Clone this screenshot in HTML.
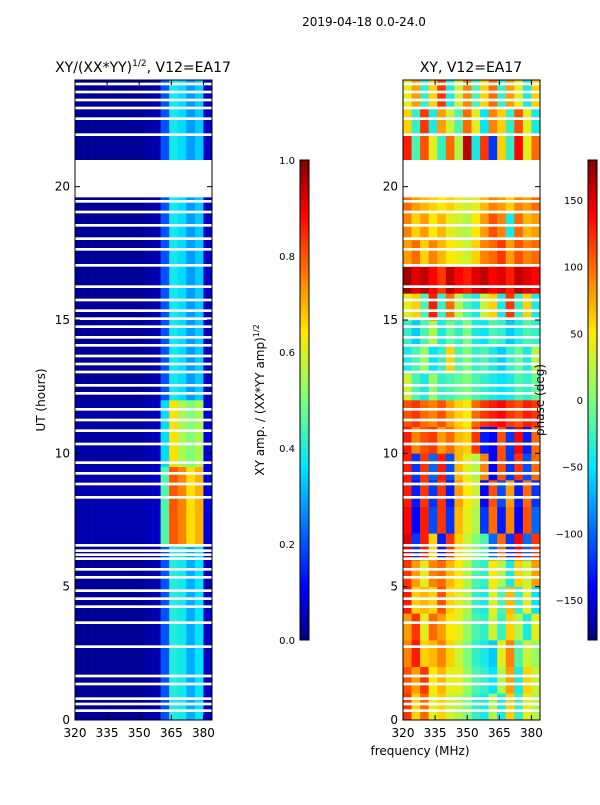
<!DOCTYPE html>
<html><head><meta charset="utf-8"><style>
body{margin:0;background:#fff;}
svg text{font-family:"DejaVu Sans","Liberation Sans",sans-serif;fill:#000;}
</style></head><body>
<svg id="fig" width="600" height="800" xmlns="http://www.w3.org/2000/svg">
<defs>
<linearGradient id="jet" x1="0" y1="1" x2="0" y2="0">
<stop offset="0" stop-color="#000080"/><stop offset="0.11" stop-color="#0000ff"/><stop offset="0.36" stop-color="#00e5ff"/><stop offset="0.5" stop-color="#7dff7a"/><stop offset="0.64" stop-color="#ffea00"/><stop offset="0.89" stop-color="#ff0000"/><stop offset="1" stop-color="#800000"/>
</linearGradient>
</defs>
<text x="364" y="26" font-size="12" text-anchor="middle">2019-04-18 0.0-24.0</text>
<text x="143" y="72" font-size="14" text-anchor="middle">XY/(XX*YY)<tspan font-size="9" dy="-6">1/2</tspan><tspan dy="6">, V12=EA17</tspan></text>
<text x="471" y="72" font-size="14" text-anchor="middle">XY, V12=EA17</text>
<g id="p1"></g>
<g id="p2"></g>
<g id="axes"></g>
<rect x="300" y="160" width="9" height="480" fill="url(#jet)" stroke="#000" stroke-width="1"/>
<rect x="588" y="160" width="9" height="480" fill="url(#jet)" stroke="#000" stroke-width="1"/>
<text transform="translate(45,400) rotate(-90)" font-size="12" text-anchor="middle">UT (hours)</text>
<text transform="translate(264,400) rotate(-90)" font-size="12" text-anchor="middle">XY amp. / (XX*YY amp)<tspan font-size="8" dy="-5">1/2</tspan></text>
<text transform="translate(544,400) rotate(-90)" font-size="12" text-anchor="middle">phase (deg)</text>
<text x="420" y="755" font-size="12" text-anchor="middle">frequency (MHz)</text>
</svg>
<script>
const freqEdges=[320,324,328,332,336,340,344,348,352,356,360,364,368,372,376,380,384];
const ampBlocks=[[0,6.5],[6.5,9.5],[9.5,12],[12,24]];
const ampBase=[0.02,0.02,0.02,0.02,0.02,0.02,0.02,0.02,0.03,0.04,0.2,0.4,0.38,0.3,0.36,0.06];
const ampRed=[0.04,0.04,0.04,0.04,0.04,0.04,0.04,0.04,0.05,0.06,0.45,0.8,0.75,0.65,0.7,0.08];
const ampMid=[0.03,0.03,0.03,0.03,0.03,0.03,0.03,0.03,0.04,0.05,0.35,0.65,0.55,0.5,0.55,0.08];
const ampUpper=[0.02,0.02,0.02,0.02,0.02,0.02,0.02,0.02,0.03,0.04,0.2,0.38,0.35,0.28,0.33,0.06];
const phaseRows=[
[120,60,100,40,60,30,20,0,-30,-40,20,-40,60,-30,40,20],
[110,80,120,50,70,40,40,10,-20,-30,-50,20,80,-40,60,30],
[90,130,60,70,90,60,30,0,-30,-40,-60,40,90,-20,30,10],
[80,120,40,100,80,50,40,10,-20,-30,30,-30,60,20,-40,40],
[130,60,70,60,110,60,40,20,-30,-40,40,-20,70,-30,40,-50],
[120,80,40,90,100,70,50,20,-20,-30,50,20,-40,60,30,80],
[150,-120,130,60,-130,120,60,30,0,-20,-100,100,-120,140,-100,120],
[140,-140,130,-110,120,-120,70,40,20,-120,100,-130,90,-140,110,-100],
[130,-130,120,-120,120,-130,80,50,30,-140,110,-110,80,-130,100,-120],
[130,-120,120,-100,130,-110,70,40,20,90,-140,110,-120,120,-110,100],
[130,90,110,120,80,100,70,60,120,-130,-140,110,-120,140,-130,100],
[110,120,100,90,110,80,60,50,100,120,130,140,120,110,130,120],
[30,-20,-40,10,-30,-20,-10,0,-20,-30,-40,-50,-40,-20,-30,-10],
[-40,-20,10,-50,-30,60,-20,0,-30,-20,-40,-60,-30,-10,-40,20],
[-30,-60,-20,20,-40,-10,-30,0,-40,-50,-20,-30,-60,-40,-20,-30],
[40,60,-20,130,-30,100,20,-20,-40,30,60,-40,120,-30,60,-40],
[170,150,160,140,120,160,140,130,150,160,140,150,130,160,150,140],
[80,100,60,90,70,50,40,30,60,90,100,120,80,110,90,100],
[90,60,80,50,70,40,30,20,50,80,110,90,-40,100,70,80],
[100,80,70,60,50,60,40,30,40,70,90,80,60,90,80,100],
[0,0,0,0,0,0,0,0,0,0,0,0,0,0,0,0],
[130,-20,110,40,-30,100,20,160,-40,120,-120,60,-30,140,40,100],
[60,-30,120,-40,80,30,-20,100,40,-50,90,60,-30,110,40,-40],
[40,80,-30,60,120,-40,30,90,-20,60,100,-30,80,40,-40,60]];
const gaps=[0.3,0.55,0.75,1.3,1.6,2.7,3.6,4.2,4.5,4.8,5.3,5.6,6.0,6.15,6.3,6.5,8.3,8.8,9.2,9.6,10.3,10.8,11.2,11.6,12.2,12.5,13.0,13.3,13.6,14.0,14.3,14.7,15.0,15.3,15.7,16.2,17.0,17.6,18.0,18.5,19.0,19.4,21.9,22.5,22.9,23.2,23.5,23.8];
const bigGap=[19.6,21.0];
const xTicks=[320,335,350,365,380];
const yTicks=[0,5,10,15,20];
const ampTicks=[0.0,0.2,0.4,0.6,0.8,1.0];
const phaseTicks=[-150,-100,-50,0,50,100,150];

const NS="http://www.w3.org/2000/svg";
const Y0=720,Y1=80;
function yScale(h){return Y0-(h/24)*(Y0-Y1);}
function xScale(x0,f){return x0+(f-320)/64*137;}
function jet(v){v=Math.max(0,Math.min(1,v));
 const s=[[0,0,0,128],[0.11,0,0,255],[0.36,0,229,255],[0.5,125,255,122],[0.64,255,234,0],[0.89,255,0,0],[1,128,0,0]];
 for(let i=1;i<s.length;i++){if(v<=s[i][0]){const t=(v-s[i-1][0])/(s[i][0]-s[i-1][0]);
 const c=[1,2,3].map(k=>Math.round(s[i-1][k]+t*(s[i][k]-s[i-1][k])));return `rgb(${c})`;}}return 'rgb(128,0,0)';}
function el(tag,attrs,parent){const e=document.createElementNS(NS,tag);for(const k in attrs)e.setAttribute(k,attrs[k]);parent.appendChild(e);return e;}
const p1=document.getElementById('p1'),p2=document.getElementById('p2'),ax=document.getElementById('axes');
const ampSets=[ampBase,ampRed,ampMid,ampUpper];
ampBlocks.forEach((b,bi)=>{for(let c=0;c<16;c++){
 const r=el('rect',{x:xScale(75,freqEdges[c]),y:yScale(b[1]),width:xScale(75,freqEdges[c+1])-xScale(75,freqEdges[c])+0.3,height:yScale(b[0])-yScale(b[1])+0.3,fill:jet(ampSets[bi][c])},p1);
 
 }});
phaseRows.forEach((row,ri)=>{row.forEach((v,c)=>{
 const r=el('rect',{x:xScale(403,freqEdges[c]),y:yScale(ri+1),width:xScale(403,freqEdges[c+1])-xScale(403,freqEdges[c])+0.3,height:yScale(ri)-yScale(ri+1)+0.3,fill:jet((v+180)/360)},p2);
 
 });});
[75,403].forEach(x0=>{
 gaps.forEach(g=>{const r=el('rect',{x:x0,y:yScale(g+0.1),width:137,height:yScale(g)-yScale(g+0.1),fill:'#fff'},ax);
 
 });
 const r=el('rect',{x:x0,y:yScale(bigGap[1]),width:137,height:yScale(bigGap[0])-yScale(bigGap[1]),fill:'#fff'},ax);
 
 
 const f=el('rect',{x:x0,y:80,width:137,height:640,fill:'none',stroke:'#000','stroke-width':1},ax);
 
 
 xTicks.forEach(t=>{const x=xScale(x0,t);
  el('line',{x1:x,x2:x,y1:720,y2:715,stroke:'#000'},ax);el('line',{x1:x,x2:x,y1:80,y2:85,stroke:'#000'},ax);
  const tx=el('text',{x:x,y:737,'font-size':12,'text-anchor':'middle'},ax);tx.textContent=t;
  
  });
 yTicks.forEach(t=>{const y=yScale(t);
  el('line',{x1:x0,x2:x0+5,y1:y,y2:y,stroke:'#000'},ax);el('line',{x1:x0+137,x2:x0+132,y1:y,y2:y,stroke:'#000'},ax);
  const tx=el('text',{x:x0-5,y:y+4,'font-size':12,'text-anchor':'end'},ax);tx.textContent=t;
  
  });
});
ampTicks.forEach(t=>{const y=640-t*480;
 el('line',{x1:300,x2:304,y1:y,y2:y,stroke:'#000'},ax);
 const tx=el('text',{x:295,y:y+4,'font-size':10,'text-anchor':'end'},ax);tx.textContent=t.toFixed(1);
 
 });
phaseTicks.forEach(t=>{const y=640-(t+180)/360*480;
 el('line',{x1:588,x2:592,y1:y,y2:y,stroke:'#000'},ax);
 const tx=el('text',{x:583,y:y+4,'font-size':10,'text-anchor':'end'},ax);tx.textContent=t<0?'\u2212'+(-t):t;
 
 });
</script>
</body></html>
